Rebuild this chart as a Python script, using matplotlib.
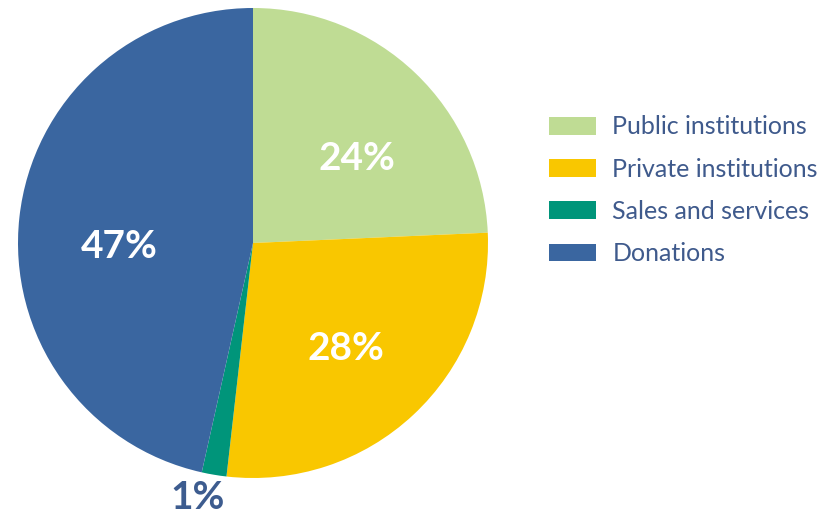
import numpy as np
import matplotlib
matplotlib.use("Agg")
import matplotlib.pyplot as plt
from matplotlib.patches import Patch

plt.rcParams['font.family'] = ['Lato', 'DejaVu Sans']

sources = ["Public institutions", "Private institutions", "Sales and services", "Donations"]
shares = [24.3, 27.5, 1.7, 46.5]
pct_labels = ["24%", "28%", "1%", "47%"]
colors = ["#BFDC94", "#F9C700", "#00957A", "#3A66A0"]
label_dist = [0.57, 0.60, 1.11, 0.57]
label_shift = [-7, -1.7, -2.7, 8]   # degrees off the wedge middle
label_colors = ["white", "white", "#3D5C8F", "white"]

fig = plt.figure(figsize=(8.32, 5.19), dpi=100)
ax = fig.add_axes([18 / 832, 41 / 519, 470 / 832, 470 / 519])

wedges, _ = ax.pie(shares, colors=colors, startangle=90, counterclock=False,
                   radius=1, wedgeprops=dict(linewidth=0))
ax.set_xlim(-1, 1)
ax.set_ylim(-1, 1)

for w, lab, d, s, c in zip(wedges, pct_labels, label_dist, label_shift, label_colors):
    ang = np.deg2rad((w.theta1 + w.theta2) / 2 + s)
    ax.text(d * np.cos(ang), d * np.sin(ang), lab, ha="center", va="center",
            fontsize=28, fontweight="bold", color=c, clip_on=False)

handles = [Patch(facecolor=c, edgecolor="none") for c in colors]
leg = fig.legend(handles, sources, loc="upper left", bbox_to_anchor=(526 / 832, 1 - 93 / 519),
                 frameon=False, fontsize=18, handlelength=1.88, handleheight=0.72,
                 handletextpad=0.68, labelspacing=0.77)
for t in leg.get_texts():
    t.set_color("#3F5A8C")

fig.savefig("out.png", dpi=100)
